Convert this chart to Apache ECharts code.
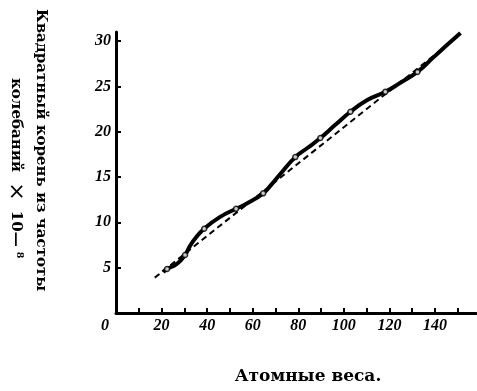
<!DOCTYPE html>
<html>
<head>
<meta charset="utf-8">
<script src="https://cdn.jsdelivr.net/npm/echarts@6/dist/echarts.min.js"></script>
<style>
  html, body { margin: 0; padding: 0; background: #fff; }
  #chart { width: 477px; height: 391px; }
</style>
</head>
<body>
<div id="chart"></div>
<script>
// atomic weight vs sqrt of frequency (x 10^-8)
var curveX = [20.7, 22.4, 26, 28, 30.3, 32.5, 35, 38.7, 45.7, 52.7, 57.6, 64.6, 68, 72, 78.7, 84, 89.7, 96, 102.9, 110.3, 118.2, 124.8, 132.3, 139.3, 145, 151.2]
var curveY = [4.5, 4.85, 5.3, 5.7, 6.4, 7.4, 8.3, 9.3, 10.6, 11.5, 12.1, 13.2, 14.1, 15.3, 17.2, 18.2, 19.3, 20.7, 22.2, 23.5, 24.4, 25.4, 26.6, 28.2, 29.5, 30.9]
var pointX = [22.4, 30.3, 38.7, 52.7, 64.6, 78.7, 89.7, 102.9, 118.2, 132.3]
var pointY = [4.85, 6.4, 9.3, 11.5, 13.2, 17.2, 19.3, 22.2, 24.4, 26.6]
var lineX = [17, 150]
var lineY = [3.9, 30.5]
var xTicks = [10, 20, 30, 40, 50, 60, 70, 80, 90, 100, 110, 120, 130, 140, 150]
var xLabels = [0, 20, 40, 60, 80, 100, 120, 140]
var yTicks = [5, 10, 15, 20, 25, 30]

function pairs(xs, ys) {
    let out = []
    for (let i = 0; i < xs.length; i++) {
        out.push([xs[i], ys[i]])
    }
    return out
}

let numFont = {
    fontFamily: 'Liberation Serif',
    fontStyle: 'italic',
    fontWeight: 'bold',
    fontSize: 16,
    color: '#000'
}

let titleFont = 'bold 15px "DejaVu Serif"'

let myChart = echarts.init(document.getElementById('chart'));
let option = {
    animation: false,
    backgroundColor: '#fff',
    grid: { left: 116, right: 1, top: 32, bottom: 78 },
    xAxis: {
        type: 'value',
        min: 0,
        max: 158,
        splitLine: { show: false },
        axisLine: { lineStyle: { color: '#000', width: 3 } },
        axisTick: { inside: true, length: 5, customValues: xTicks, lineStyle: { color: '#000', width: 2 } },
        axisLabel: Object.assign({
            margin: 5,
            customValues: xLabels,
            formatter: function (v) {
                return v === 0 ? '{z|0}' : String(v)
            },
            rich: { z: Object.assign({ padding: [0, 22, 0, 0] }, numFont) }
        }, numFont)
    },
    yAxis: {
        type: 'value',
        min: 0,
        max: 31,
        splitLine: { show: false },
        axisLine: { lineStyle: { color: '#000', width: 3 } },
        axisTick: { inside: true, length: 5, customValues: yTicks, lineStyle: { color: '#000', width: 2 } },
        axisLabel: Object.assign({ margin: 5, customValues: yTicks }, numFont)
    },
    graphic: [
        {
            type: 'text', x: 48, y: 9, rotation: -Math.PI / 2,
            style: {
                text: 'Квадратный корень из частоты',
                font: titleFont,
                fill: '#000', textAlign: 'left', textVerticalAlign: 'top'
            }
        },
        {
            type: 'text', x: 27, y: 78, rotation: -Math.PI / 2,
            style: {
                text: 'колебаний {x|×} 10{d|—}⁸',
                font: titleFont,
                fill: '#000', textAlign: 'left', textVerticalAlign: 'top',
                rich: {
                    x: { font: '22px "DejaVu Sans"', fill: '#000', padding: [0, 5, 0, 5] },
                    d: { font: 'bold 15px "DejaVu Serif"', fill: '#000', padding: [0, 5, 0, 0] }
                }
            }
        },
        {
            type: 'text', x: 308, y: 377,
            style: {
                text: 'Атомные веса.',
                font: 'bold 17px "DejaVu Serif"',
                fill: '#000', textAlign: 'center', textVerticalAlign: 'middle'
            }
        }
    ],
    series: [
        {
            name: 'straight',
            type: 'line',
            data: pairs(lineX, lineY),
            showSymbol: false,
            z: 2,
            lineStyle: { color: '#000', width: 2, type: [6, 4] }
        },
        {
            name: 'curve',
            type: 'line',
            data: pairs(curveX, curveY),
            smooth: true,
            showSymbol: false,
            z: 3,
            lineStyle: { color: '#000', width: 4 }
        },
        {
            name: 'points',
            type: 'scatter',
            data: pairs(pointX, pointY),
            symbol: 'circle',
            symbolSize: 5,
            z: 4,
            itemStyle: { color: '#fff', borderColor: '#000', borderWidth: 1.5 }
        }
    ]
};

myChart.setOption(option)
</script>
</body>
</html>
